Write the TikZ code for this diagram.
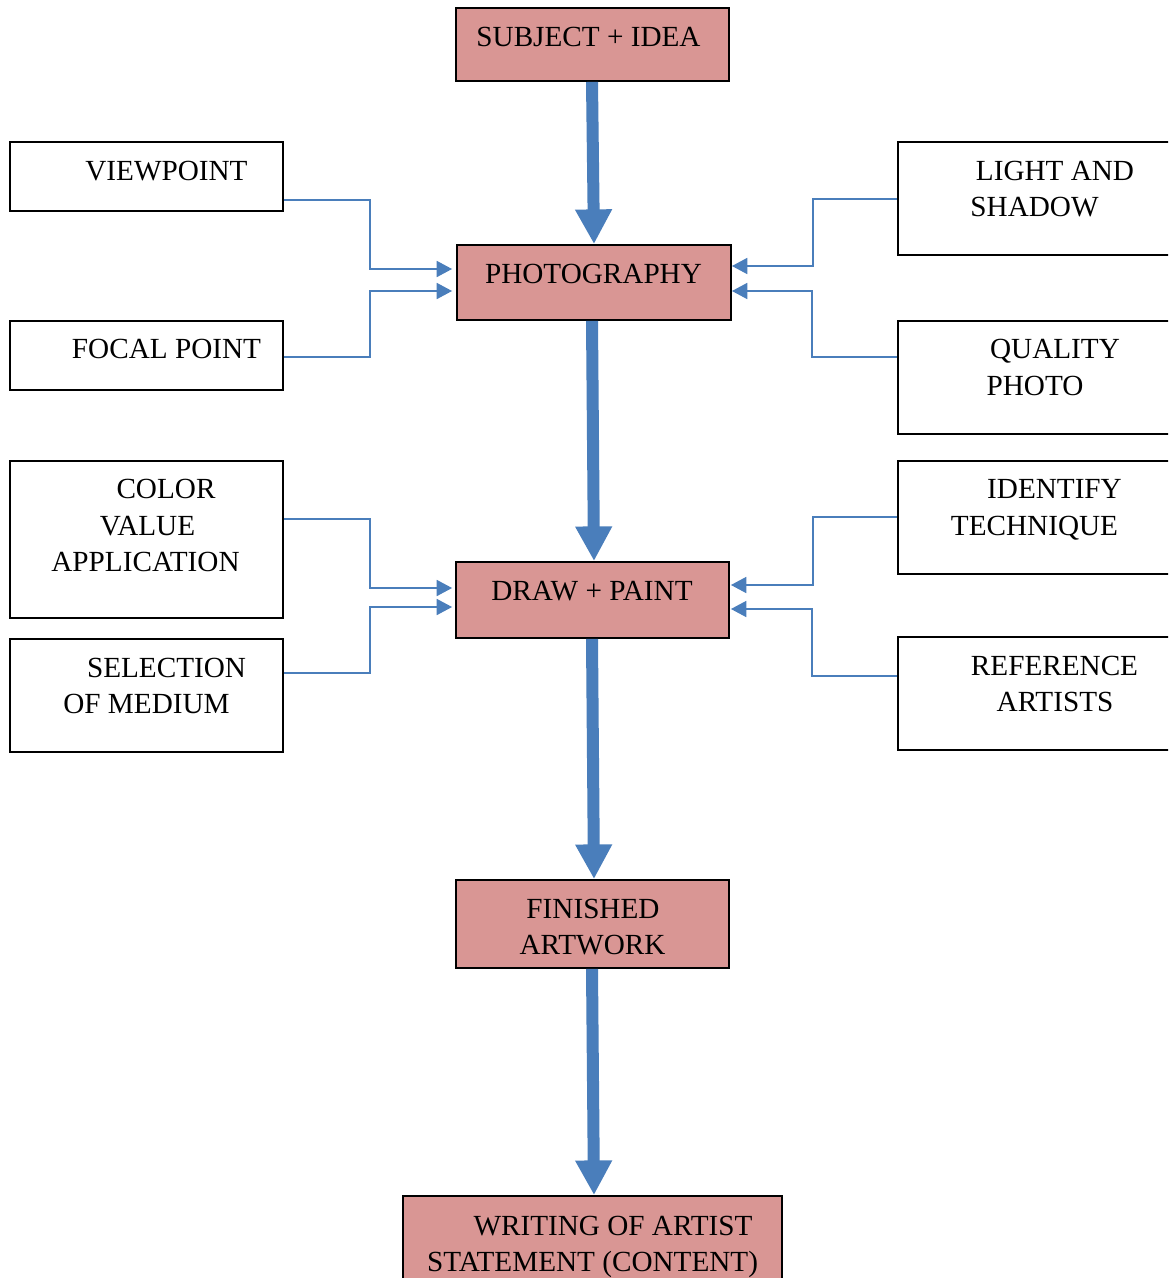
\documentclass[tikz,border=0pt]{standalone}
\usepackage{fontspec}
\setmainfont{Liberation Serif}
\usetikzlibrary{arrows.meta,calc}
\definecolor{boxpink}{HTML}{D99694}
\definecolor{arrblue}{HTML}{4A7EBB}
\newcommand\mkbox[6]{\node[#1,minimum width={(#4-#2)*0.75pt},minimum height={(#5-#3)*0.75pt}] (#6) at ({(#2+#4)/2},{(#3+#5)/2}) {};}
\begin{document}
\begin{tikzpicture}[x=0.75pt,y=-0.75pt,
  pinkbox/.style={draw=black, fill=boxpink, line width=1.4pt, inner sep=0pt},
  whitebox/.style={draw=black, line width=1.3pt, inner sep=0pt},
  lbl/.style={anchor=base, inner sep=0pt, font=\fontsize{21.9}{26}\selectfont},
  bigarrow/.style={draw=arrblue, line width=9pt, -{Triangle[width=26pt,length=26pt]}},
  thinarrow/.style={draw=arrblue, line width=1.1pt, -{Triangle[width=12pt,length=11.5pt]}}]
\clip (0,0) rectangle (1168,1278);
\fill[white] (0,0) rectangle (1168,1278);

% main boxes
\mkbox{pinkbox}{456}{8}{729}{81}{sub}
\mkbox{pinkbox}{457}{245}{731}{320}{photo}
\mkbox{pinkbox}{456}{562}{729}{638}{paint}
\mkbox{pinkbox}{456}{880}{729}{968}{fin}
\mkbox{pinkbox}{403}{1196}{782}{1300}{wri}

% left boxes
\mkbox{whitebox}{10}{142}{283}{211}{vp}
\mkbox{whitebox}{10}{321}{283}{390}{fp}
\mkbox{whitebox}{10}{461}{283}{618}{col}
\mkbox{whitebox}{10}{639}{283}{752}{sel}

% right boxes
\mkbox{whitebox}{898}{142}{1190}{255}{lgt}
\mkbox{whitebox}{898}{321}{1190}{434}{qua}
\mkbox{whitebox}{898}{461}{1190}{574}{idt}
\mkbox{whitebox}{898}{637}{1190}{750}{ref}

% texts
\node[lbl] at (588.5,46.5) {SUBJECT + IDEA};
\node[lbl] at (593.5,283) {PHOTOGRAPHY};
\node[lbl] at (592,600) {DRAW + PAINT};
\node[lbl] at (593,918) {FINISHED};
\node[lbl] at (592.5,954) {ARTWORK};
\node[lbl] at (613,1235) {WRITING OF ARTIST};
\node[lbl] at (592.5,1271) {STATEMENT (CONTENT)};

\node[lbl] at (166.5,180) {VIEWPOINT};
\node[lbl] at (166.5,358) {FOCAL POINT};
\node[lbl] at (166,498) {COLOR};
\node[lbl] at (147.5,535) {VALUE};
\node[lbl] at (145.5,571) {APPLICATION};
\node[lbl] at (166.5,677) {SELECTION};
\node[lbl] at (146.5,713) {OF MEDIUM};

\node[lbl] at (1055,180) {LIGHT AND};
\node[lbl] at (1034.5,216) {SHADOW};
\node[lbl] at (1055,358) {QUALITY};
\node[lbl] at (1035,395) {PHOTO};
\node[lbl] at (1054.5,498) {IDENTIFY};
\node[lbl] at (1034.5,535) {TECHNIQUE};
\node[lbl] at (1054.5,675) {REFERENCE};
\node[lbl] at (1055,711) {ARTISTS};

% big arrows
\draw[bigarrow] ($(sub.south)+(-0.5,0)$) -- ($(photo.north)+(0,0)$);
\draw[bigarrow] ($(photo.south)+(-2,0)$) -- ($(paint.north)+(1.5,0)$);
\draw[bigarrow] ($(paint.south)+(-0.5,0)$) -- ($(fin.north)+(1.5,0)$);
\draw[bigarrow] ($(fin.south)+(-0.5,0)$) -- ($(wri.north)+(1.5,0)$);

% left connectors
\draw[thinarrow] ($(vp.east)+(0,23.5)$) -- ++(86,0) |- ($(photo.west)+(-4,-13.5)$);
\draw[thinarrow] ($(fp.east)+(0,1.5)$) -- ++(86,0) |- ($(photo.west)+(-4,8.5)$);
\draw[thinarrow] ($(col.east)+(0,-20.5)$) -- ++(86,0) |- ($(paint.west)+(-3,-12)$);
\draw[thinarrow] ($(sel.east)+(0,-22.5)$) -- ++(86,0) |- ($(paint.west)+(-3,7)$);

% right connectors
\draw[thinarrow] ($(lgt.west)+(0,0.5)$) -- ++(-84,0) |- ($(photo.east)+(0,-16.5)$);
\draw[thinarrow] ($(qua.west)+(0,-20.5)$) -- ++(-85,0) |- ($(photo.east)+(0,8.5)$);
\draw[thinarrow] ($(idt.west)+(0,-0.5)$) -- ++(-84,0) |- ($(paint.east)+(1,-15)$);
\draw[thinarrow] ($(ref.west)+(0,-17.5)$) -- ++(-85,0) |- ($(paint.east)+(1,9)$);
\end{tikzpicture}
\end{document}
